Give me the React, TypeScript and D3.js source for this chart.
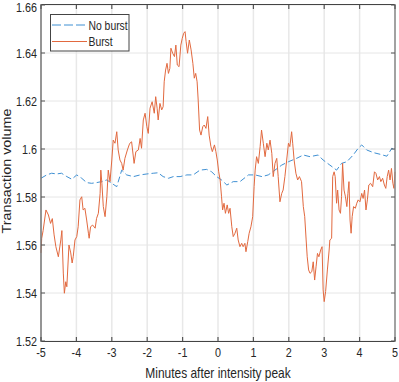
import React from "react";
import { scaleLinear, line, range } from "d3";

// minutes after peak / volume
const burstMin = [
  -5.0, -4.98, -4.94, -4.86, -4.79, -4.73, -4.68, -4.63, -4.58, -4.51, -4.44, -4.41, -4.37, -4.34, -4.3, -4.27,
  -4.21, -4.16, -4.12, -4.09, -4.04, -3.99, -3.95, -3.9, -3.85, -3.81, -3.76, -3.71, -3.66, -3.64, -3.6, -3.54,
  -3.47, -3.43, -3.38, -3.33, -3.31, -3.28, -3.24, -3.19, -3.14, -3.1, -3.05, -3.0, -2.96, -2.91, -2.86, -2.82,
  -2.77, -2.72, -2.68, -2.63, -2.56, -2.51, -2.49, -2.44, -2.37, -2.32, -2.25, -2.2, -2.16, -2.11, -2.06, -2.01,
  -1.97, -1.92, -1.86, -1.8, -1.76, -1.72, -1.69, -1.64, -1.59, -1.55, -1.52, -1.48, -1.44, -1.4, -1.36, -1.33,
  -1.28, -1.23, -1.19, -1.15, -1.1, -1.05, -1.01, -0.97, -0.93, -0.9, -0.86, -0.81, -0.76, -0.71, -0.67, -0.63,
  -0.59, -0.56, -0.52, -0.48, -0.43, -0.39, -0.34, -0.29, -0.25, -0.2, -0.16, -0.1, -0.06, -0.02, 0.02, 0.06,
  0.1, 0.13, 0.17, 0.21, 0.26, 0.3, 0.34, 0.39, 0.43, 0.48, 0.53, 0.57, 0.62, 0.67, 0.71, 0.76,
  0.79, 0.84, 0.88, 0.93, 0.98, 1.02, 1.05, 1.09, 1.14, 1.19, 1.23, 1.28, 1.33, 1.38, 1.42, 1.47,
  1.52, 1.56, 1.61, 1.66, 1.7, 1.75, 1.8, 1.84, 1.89, 1.94, 1.99, 2.03, 2.08, 2.11, 2.15, 2.2,
  2.25, 2.3, 2.36, 2.41, 2.45, 2.49, 2.52, 2.56, 2.6, 2.65, 2.69, 2.73, 2.77, 2.81, 2.85, 2.9,
  2.94, 2.97, 3.0, 3.04, 3.09, 3.14, 3.16, 3.21, 3.24, 3.28, 3.31, 3.35, 3.38, 3.42, 3.46, 3.49,
  3.52, 3.56, 3.6, 3.64, 3.67, 3.7, 3.73, 3.76, 3.79, 3.83, 3.88, 3.92, 3.96, 4.01, 4.06, 4.1,
  4.14, 4.18, 4.22, 4.26, 4.31, 4.37, 4.42, 4.46, 4.51, 4.56, 4.6, 4.65, 4.7, 4.74, 4.78, 4.82,
  4.86, 4.9, 4.94, 4.97, 5.0,
];
const burstVol = [
  1.5567, 1.5628, 1.566, 1.5746, 1.5725, 1.569, 1.571, 1.5642, 1.5593, 1.5551, 1.5621, 1.566, 1.5483, 1.5399, 1.5447, 1.5426,
  1.56, 1.5567, 1.5525, 1.5551, 1.5621, 1.5635, 1.5676, 1.5788, 1.5801, 1.5746, 1.5753, 1.5704, 1.5649, 1.5628, 1.5676, 1.5683,
  1.567, 1.5711, 1.5732, 1.5815, 1.5912, 1.5857, 1.576, 1.5718, 1.5801, 1.5912, 1.5864, 1.5954, 1.6037, 1.6024, 1.6072, 1.5996,
  1.5954, 1.594, 1.5912, 1.5961, 1.5996, 1.6017, 1.6024, 1.603, 1.594, 1.5989, 1.5996, 1.6044, 1.6003, 1.6121, 1.6149, 1.6093,
  1.6065, 1.617, 1.6197, 1.6149, 1.6218, 1.617, 1.6121, 1.619, 1.6163, 1.6176, 1.628, 1.6329, 1.6357, 1.6315, 1.6336, 1.642,
  1.6399, 1.6385, 1.6433, 1.635, 1.6343, 1.6433, 1.6461, 1.6482, 1.6489, 1.6447, 1.6399, 1.6454, 1.6413, 1.6357, 1.6295, 1.6315,
  1.628, 1.6204, 1.6079, 1.6058, 1.6093, 1.61, 1.6086, 1.6135, 1.6058, 1.601, 1.5989, 1.6017, 1.5989, 1.5954, 1.5905, 1.5871,
  1.5801, 1.5746, 1.5774, 1.5732, 1.5767, 1.5732, 1.5753, 1.5676, 1.5635, 1.5649, 1.567, 1.5621, 1.5593, 1.5607, 1.5593, 1.5607,
  1.5572, 1.5614, 1.5649, 1.5676, 1.5718, 1.5843, 1.5912, 1.5968, 1.594, 1.601, 1.6079, 1.6024, 1.5968, 1.6024, 1.5996, 1.6037,
  1.5982, 1.5885, 1.594, 1.5961, 1.5885, 1.578, 1.5815, 1.5829, 1.5885, 1.5954, 1.6024, 1.601, 1.6072, 1.6024, 1.5954, 1.5899,
  1.5871, 1.5885, 1.5864, 1.576, 1.5718, 1.5621, 1.5551, 1.5496, 1.5482, 1.5489, 1.553, 1.5454, 1.5509, 1.5565, 1.5551, 1.5579,
  1.5593, 1.5413, 1.5364, 1.5406, 1.5496, 1.5579, 1.5621, 1.5628, 1.5885, 1.5905, 1.5885, 1.5774, 1.5829, 1.5746, 1.5732, 1.5801,
  1.594, 1.5829, 1.5801, 1.576, 1.5815, 1.5864, 1.5704, 1.5649, 1.5718, 1.576, 1.5753, 1.5774, 1.5788, 1.578, 1.5815, 1.5794,
  1.5829, 1.5746, 1.5788, 1.585, 1.5857, 1.5843, 1.5905, 1.5899, 1.5871, 1.5885, 1.5864, 1.5878, 1.585, 1.5836, 1.5885, 1.5912,
  1.5871, 1.5919, 1.5857, 1.5836, 1.5905,
];

const noBurstMin = [
  -5.0, -4.84, -4.7, -4.56, -4.42, -4.27, -4.13, -3.99, -3.85, -3.71, -3.57, -3.43, -3.29, -3.14, -3.0, -2.86,
  -2.72, -2.58, -2.39, -2.2, -2.01, -1.83, -1.69, -1.55, -1.4, -1.26, -1.07, -0.88, -0.7, -0.51, -0.32, -0.18,
  -0.04, 0.1, 0.25, 0.43, 0.62, 0.86, 1.05, 1.24, 1.42, 1.61, 1.8, 1.99, 2.22, 2.41, 2.6, 2.83,
  2.97, 3.16, 3.35, 3.49, 3.64, 3.82, 3.96, 4.06, 4.2, 4.39, 4.58, 4.77, 4.91, 5.0,
];
const noBurstVol = [
  1.5878, 1.5892, 1.5899, 1.5896, 1.5899, 1.5885, 1.5874, 1.5892, 1.5878, 1.586, 1.5857, 1.586, 1.5864, 1.5871, 1.5857, 1.5843,
  1.5912, 1.5892, 1.5885, 1.5892, 1.5896, 1.5899, 1.5901, 1.5885, 1.5878, 1.5885, 1.5885, 1.5892, 1.5892, 1.5912, 1.5915, 1.5905,
  1.5885, 1.5871, 1.585, 1.5864, 1.5864, 1.5892, 1.5892, 1.5885, 1.5892, 1.5912, 1.5933, 1.5947, 1.5961, 1.5975, 1.5968, 1.5975,
  1.5954, 1.5933, 1.5912, 1.594, 1.5947, 1.5975, 1.6003, 1.6017, 1.5996, 1.5985, 1.5978, 1.597, 1.6003, 1.5995,
];

const xTicks = [-5, -4, -3, -2, -1, 0, 1, 2, 3, 4, 5];
const yTicks = [1.52, 1.54, 1.56, 1.58, 1.6, 1.62, 1.64, 1.66];

const W = 399;
const H = 382;
const SX = 0.83; // the reference text looks horizontally squeezed
const FONT = "'Liberation Sans', Arial, Helvetica, sans-serif";

export default function App() {
  const x = scaleLinear().domain([-5, 5]).range([41, 395]);
  const y = scaleLinear().domain([1.52, 1.66]).range([341, 5]);

  const burstPath = line<number>()
    .x((d) => x(burstMin[d]))
    .y((d) => y(burstVol[d]))(range(burstMin.length));
  const noBurstPath = line<number>()
    .x((d) => x(noBurstMin[d]))
    .y((d) => y(noBurstVol[d]))(range(noBurstMin.length));

  const [x0, x1] = x.range();
  const [y0, y1] = y.range();

  return (
    <svg
      width={W}
      height={H}
      style={{ position: "absolute", left: 0, top: 0, background: "#fff" }}
      fontFamily={FONT}
    >
      {/* grid */}
      {xTicks.map((t) => (
        <line key={"gx" + t} x1={x(t)} x2={x(t)} y1={y1} y2={y0} stroke="#e8e8e8" strokeWidth={1.5} />
      ))}
      {yTicks.map((t) => (
        <line key={"gy" + t} x1={x0} x2={x1} y1={y(t)} y2={y(t)} stroke="#e6e6e6" strokeWidth={1} />
      ))}

      {/* series */}
      <path d={noBurstPath || ""} fill="none" stroke="#3f90d3" strokeWidth={1} strokeDasharray="6,3" />
      <path d={burstPath || ""} fill="none" stroke="#e2693f" strokeWidth={1} strokeLinejoin="round" />

      {/* box */}
      <line x1={x0} x2={x1} y1={y0 + 0.5} y2={y0 + 0.5} stroke="#444" strokeWidth={1} />
      <line x1={x0} x2={x1} y1={y1 - 0.5} y2={y1 - 0.5} stroke="#444" strokeWidth={1} />
      <line x1={x0} x2={x0} y1={y1 - 1} y2={y0 + 1} stroke="#777" strokeWidth={1.5} />
      <line x1={x1} x2={x1} y1={y1 - 1} y2={y0 + 1} stroke="#888" strokeWidth={1.5} />

      {/* ticks */}
      {xTicks.map((t) => (
        <g key={"tx" + t}>
          <line x1={x(t)} x2={x(t)} y1={y0} y2={y0 - 4} stroke="#555" strokeWidth={1.2} />
          <line x1={x(t)} x2={x(t)} y1={y1} y2={y1 + 4} stroke="#555" strokeWidth={1.2} />
          <text
            transform={`translate(${x(t)},${y0 + 16}) scale(${SX},1)`}
            textAnchor="middle"
            fontSize={13}
            fill="#262626"
          >
            {t}
          </text>
        </g>
      ))}
      {yTicks.map((t) => (
        <g key={"ty" + t}>
          <line x1={x0} x2={x0 + 4} y1={y(t)} y2={y(t)} stroke="#555" strokeWidth={1} />
          <line x1={x1} x2={x1 - 4} y1={y(t)} y2={y(t)} stroke="#555" strokeWidth={1} />
          <text
            transform={`translate(${x0 - 4},${Math.max(y(t) + 4.6, 11.8)}) scale(${SX},1)`}
            textAnchor="end"
            fontSize={13}
            fill="#262626"
          >
            {String(t)}
          </text>
        </g>
      ))}

      {/* axis labels */}
      <text
        transform={`translate(${(x0 + x1) / 2},378) scale(${SX},1)`}
        textAnchor="middle"
        fontSize={14.4}
        fill="#262626"
      >
        Minutes after intensity peak
      </text>
      <text
        transform={`translate(10.5,${(y0 + y1) / 2 - 2}) scale(${SX},1) rotate(-90)`}
        textAnchor="middle"
        fontSize={14.4}
        fill="#262626"
      >
        Transaction volume
      </text>

      {/* legend */}
      <rect x={50.5} y={14.5} width={78.5} height={36.5} fill="#fff" stroke="#444" strokeWidth={1} />
      <line x1={52} x2={87} y1={25} y2={25} stroke="#3f90d3" strokeWidth={1} strokeDasharray="9,3" />
      <line x1={52} x2={87} y1={41.5} y2={41.5} stroke="#e2693f" strokeWidth={1} />
      <text transform={`translate(88.5,29.5) scale(${SX},1)`} fontSize={12.5} fill="#262626">
        No burst
      </text>
      <text transform={`translate(88.5,46) scale(${SX},1)`} fontSize={12.5} fill="#262626">
        Burst
      </text>
    </svg>
  );
}
